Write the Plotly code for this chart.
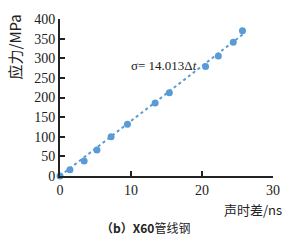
import plotly.graph_objects as go

time_diff = [0, 1.4, 3.4, 5.2, 7.2, 9.5, 13.4, 15.4, 20.5, 22.3, 24.4, 25.7]
stress = [0, 16, 38, 66, 100, 132, 186, 212, 279, 306, 341, 370]
slope = 14.013
fit_x = [0, 26]
fit_y = [slope * v for v in fit_x]

x_ticks = [0, 10, 20, 30]
y_ticks = [0, 50, 100, 150, 200, 250, 300, 350, 400]

blue = "#5B9BD5"
serif = "Liberation Serif, Times New Roman, serif"
cjk = "Noto Sans CJK SC, serif"

fig = go.Figure()
fig.add_trace(go.Scatter(x=fit_x, y=fit_y, mode="lines",
                         line=dict(color=blue, width=2, dash="dot"),
                         showlegend=False, hoverinfo="skip"))
fig.add_trace(go.Scatter(x=time_diff, y=stress, mode="markers",
                         marker=dict(color=blue, size=7), cliponaxis=False,
                         showlegend=False))

fig.update_layout(
    width=303, height=241,
    margin=dict(l=60, r=30, t=14, b=65),
    paper_bgcolor="white", plot_bgcolor="white",
    font=dict(family=serif, size=14, color="#222"),
    xaxis=dict(range=[0, 30], tickvals=x_ticks, showgrid=False, zeroline=False,
               showline=True, linecolor="#222", linewidth=2,
               ticks="inside", ticklen=5, tickwidth=1.5, tickcolor="#222",
               tickfont=dict(family=serif, size=14)),
    yaxis=dict(range=[0, 400], tickvals=y_ticks, showgrid=False, zeroline=False,
               showline=True, linecolor="#222", linewidth=2,
               ticks="inside", ticklen=5, tickwidth=1.5, tickcolor="#222",
               tickfont=dict(family=serif, size=14)),
)

fig.add_annotation(x=14.6, y=281, xref="x", yref="y", showarrow=False,
                   text="σ= 14.013Δ<i>t</i>", font=dict(family=serif, size=13, color="#222"))
# y title
fig.add_annotation(xref="paper", yref="paper", x=-0.215, y=0.82,
                   xanchor="center", yanchor="middle", showarrow=False,
                   textangle=-90, text="应力/MPa",
                   font=dict(family=cjk, size=15, color="#222"))
# x title
fig.add_annotation(xref="paper", yref="paper", x=1.05, y=-0.215,
                   xanchor="right", yanchor="middle",
                   showarrow=False, text="声时差/ns",
                   font=dict(family=cjk, size=13, color="#222"))
# caption
fig.add_annotation(xref="paper", yref="paper", x=0.40, y=-0.325,
                   xanchor="center", yanchor="middle", showarrow=False,
                   text="<b>（b）X60</b>管线钢",
                   font=dict(family=cjk, size=12, color="#222"))

fig.write_html("out.html")
